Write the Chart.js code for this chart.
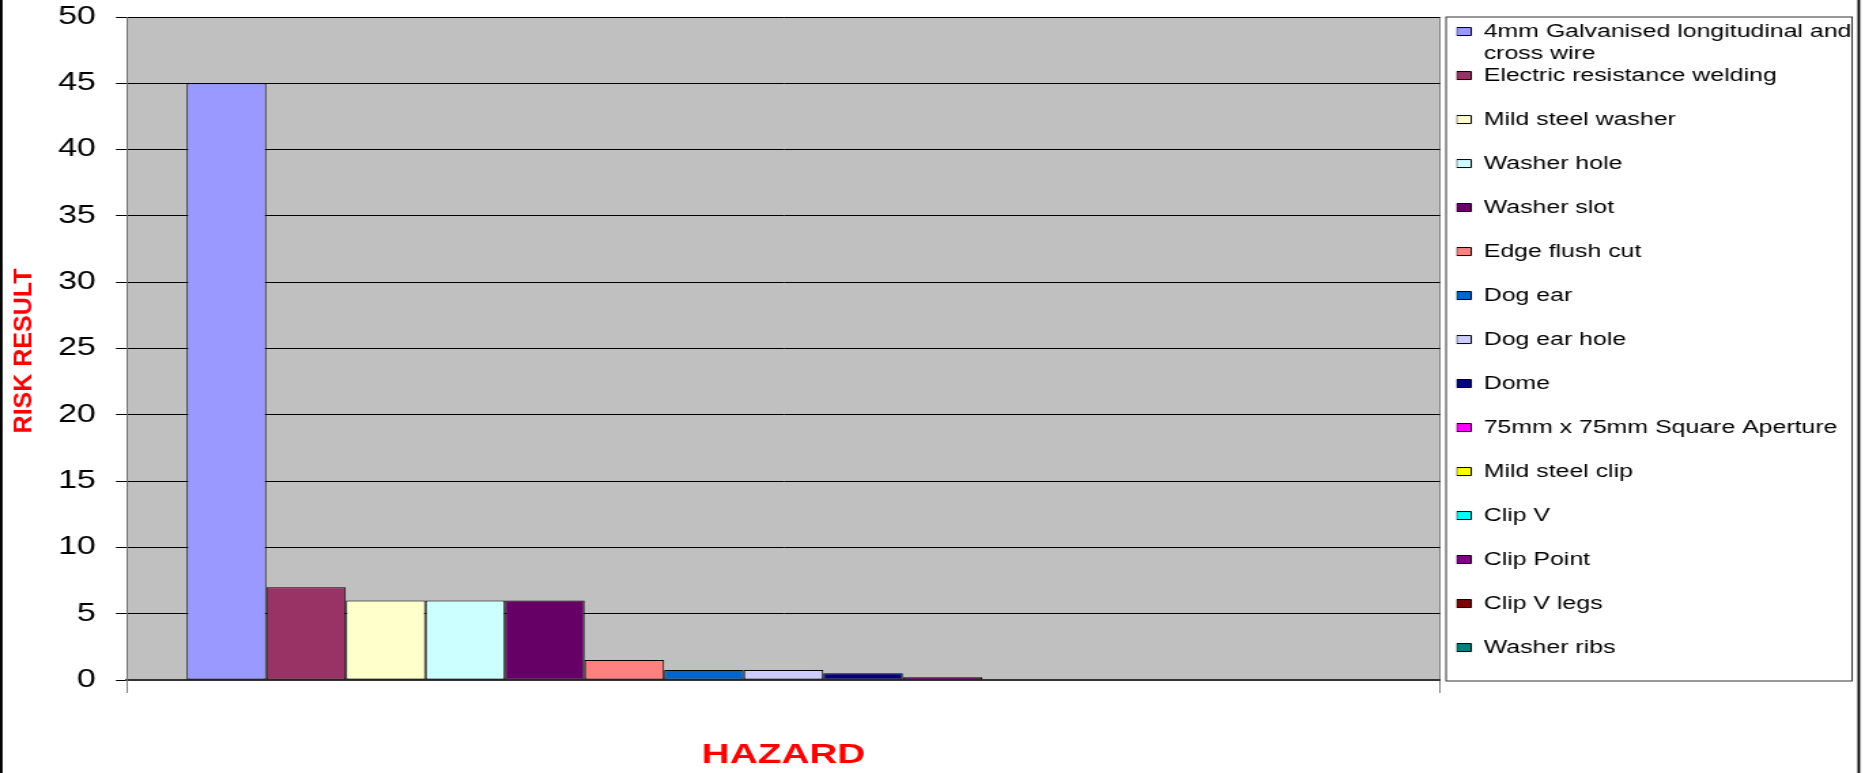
<!DOCTYPE html>
<html>
<head>
<meta charset="utf-8">
<title>Risk result by hazard</title>
<script src="https://cdn.jsdelivr.net/npm/chart.js@4.4.1/dist/chart.umd.min.js"></script>
<style>
  html, body { margin: 0; padding: 0; background: #fff; overflow: hidden; }
  /* the original renders all text wide, so the whole chart is drawn narrow and stretched */
  #wrap { position: relative; width: 1371px; height: 773px; transform: scaleX(1.36032); transform-origin: 0 0; }
  #chart { display: block; width: 1371px; height: 773px; }
</style>
</head>
<body>
<div id="wrap"><canvas id="chart" width="1371" height="773"></canvas></div>
<script>
const STRETCH = 1865 / 1371;

const categories = [''];

const hazards = [
  '4mm Galvanised longitudinal and\ncross wire',
  'Electric resistance welding',
  'Mild steel washer',
  'Washer hole',
  'Washer slot',
  'Edge flush cut',
  'Dog ear',
  'Dog ear hole',
  'Dome',
  '75mm x 75mm Square Aperture',
  'Mild steel clip',
  'Clip V',
  'Clip Point',
  'Clip V legs',
  'Washer ribs',
];

const riskValues = [45, 7, 6, 6, 6, 1.5, 0.75, 0.75, 0.5, 0.2, 0, 0, 0, 0, 0];

const barColors = [
  '#9999FF', '#993366', '#FFFFCC', '#CCFFFF', '#660066',
  '#FF8080', '#0066CC', '#CCCCFF', '#000080', '#FF00FF',
  '#FFFF00', '#00FFFF', '#800080', '#800000', '#008080',
];

const yTicks = [0, 5, 10, 15, 20, 25, 30, 35, 40, 45, 50];

const yTitle = 'RISK RESULT';
const xTitle = 'HAZARD';

const FONT = 'Liberation Sans';

// grey plot area behind the grid
const plotBackground = {
  id: 'plotBackground',
  beforeDraw(chart) {
    const { ctx, chartArea: a } = chart;
    ctx.save();
    ctx.fillStyle = '#C0C0C0';
    ctx.fillRect(a.left, a.top, a.right - a.left, a.bottom - a.top);
    ctx.restore();
  },
};

// legend frame, outer frame lines and the (un-stretched) vertical axis title
const decorations = {
  id: 'decorations',
  afterDraw(chart) {
    const { ctx, chartArea: a, legend } = chart;
    ctx.save();

    ctx.strokeStyle = '#333';
    ctx.lineWidth = 1;
    const lx = legend.left - 7.7;
    ctx.strokeRect(lx, a.top, 298.5, a.bottom + 1 - a.top);

    ctx.strokeStyle = '#000';
    ctx.lineWidth = 2.6 / STRETCH;
    ctx.beginPath();
    ctx.moveTo(1.3 / STRETCH, 0);
    ctx.lineTo(1.3 / STRETCH, chart.height);
    ctx.moveTo(1858.8 / STRETCH, 0);
    ctx.lineTo(1858.8 / STRETCH, chart.height);
    ctx.stroke();

    ctx.translate(24 / STRETCH, 351);
    ctx.scale(1 / STRETCH, 1);
    ctx.rotate(-Math.PI / 2);
    ctx.fillStyle = '#FF0000';
    ctx.font = `bold 25px "${FONT}"`;
    ctx.textAlign = 'center';
    ctx.textBaseline = 'middle';
    ctx.fillText(yTitle, 0, 0);
    ctx.restore();
  },
};

const datasets = hazards.map((name, i) => ({
  label: name,
  data: [riskValues[i]],
  backgroundColor: barColors[i],
  borderColor: '#000',
  borderWidth: 1,
  borderSkipped: false,
  categoryPercentage: 0.909,
  barPercentage: 1.0,
}));

new Chart(document.getElementById('chart'), {
  type: 'bar',
  data: { labels: categories, datasets },
  plugins: [plotBackground, decorations],
  options: {
    responsive: false,
    animation: false,
    layout: { padding: { left: 28, right: 0, top: 7, bottom: 0 } },
    plugins: {
      tooltip: { enabled: false },
      legend: {
        position: 'right',
        align: 'start',
        maxWidth: 400,
        title: { display: true, text: '', padding: 0, font: { size: 10, lineHeight: '15.4px' } },
        labels: {
          color: '#000',
          font: { family: FONT, size: 18.3, lineHeight: '22px' },
          boxWidth: 10.8,
          boxHeight: 8,
          padding: 0,
          generateLabels(chart) {
            const items = Chart.defaults.plugins.legend.labels.generateLabels(chart);
            items.forEach(it => {
              const lines = String(it.text).split('\n');
              while (lines.length < 2) lines.push('');
              it.text = lines;
            });
            return items;
          },
        },
      },
    },
    scales: {
      x: {
        offset: true,
        grid: {
          display: true,
          offset: true,
          drawOnChartArea: true,
          color: '#808080',
          lineWidth: 1,
          tickLength: 13,
        },
        border: { display: true, color: '#333', width: 2 },
        ticks: { display: false },
        title: {
          display: true,
          text: xTitle,
          color: '#FF0000',
          font: { family: FONT, size: 28.5, weight: 'bold', lineHeight: 1.2 },
          padding: { top: 44.8, bottom: 1 },
        },
      },
      y: {
        min: yTicks[0],
        max: yTicks[yTicks.length - 1],
        afterBuildTicks(scale) {
          scale.ticks = yTicks.map(v => ({ value: v }));
        },
        grid: { color: '#000', lineWidth: 1, tickLength: 8.1, tickColor: '#000' },
        border: { display: true, color: '#707070', width: 1 },
        ticks: {
          color: '#000',
          padding: 14.7,
          font: { family: FONT, size: 25, lineHeight: '4.6px' },
        },
      },
      y2: {
        type: 'linear',
        position: 'right',
        display: true,
        grid: { display: false },
        border: { display: false },
        ticks: { display: false },
        afterFit(scale) { scale.width = 12.1; },
      },
    },
  },
});
</script>
</body>
</html>
